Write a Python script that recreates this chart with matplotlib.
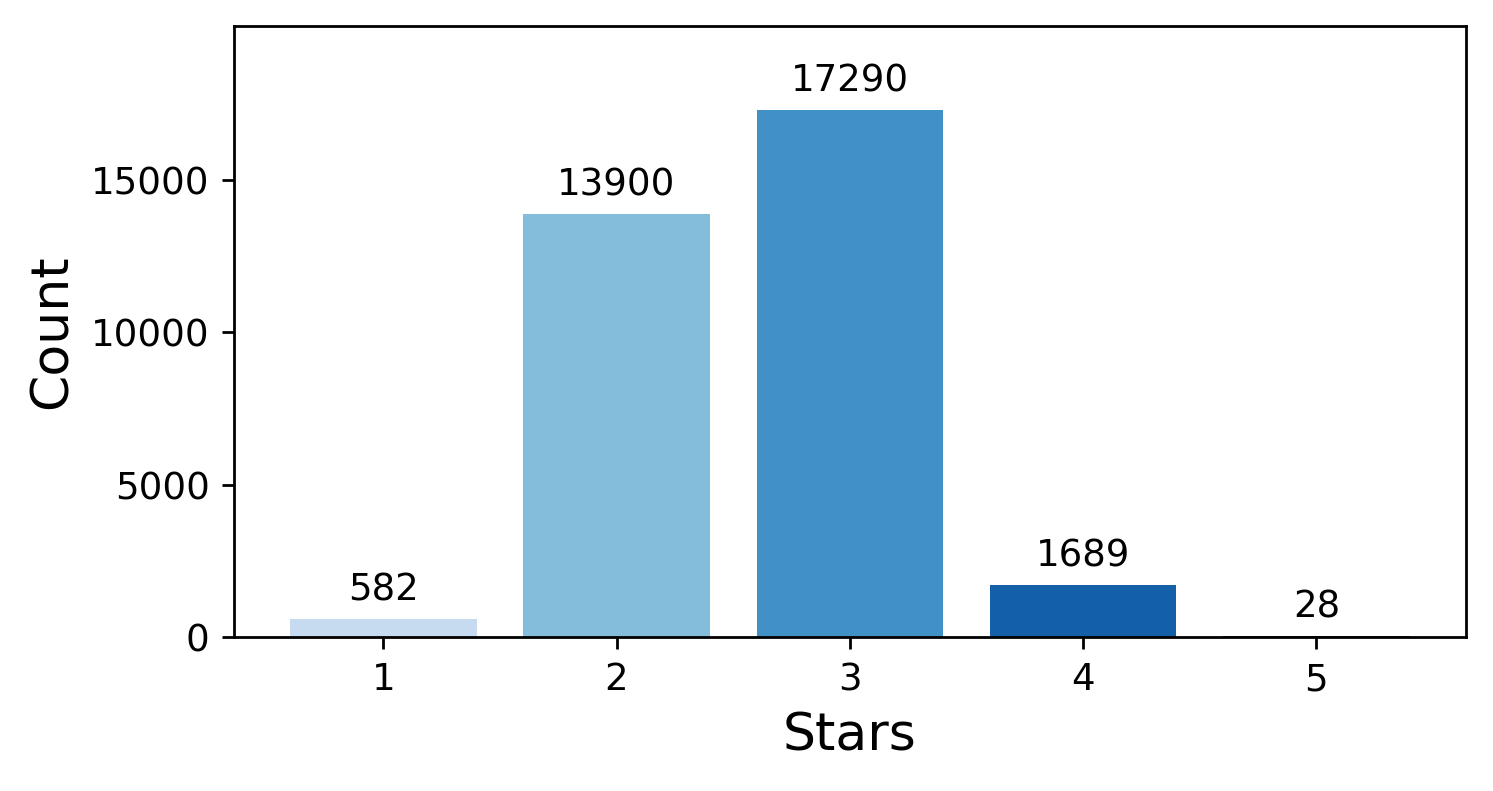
import matplotlib
matplotlib.use("Agg")
import matplotlib.pyplot as plt
import numpy as np

# star rating counts
stars = ["1", "2", "3", "4", "5"]
counts = [582, 13900, 17290, 1689, 28]

colors = plt.cm.Blues(np.linspace(0.25, 1.0, len(stars)))

fig = plt.figure(figsize=(1493 / 250, 791 / 250), dpi=250)
ax = fig.add_axes([0.1567, 0.195, 0.825, 0.772])

bars = ax.bar(stars, counts, color=colors, width=0.8)
ax.bar_label(bars, labels=[str(c) for c in counts], padding=3, fontsize=10.7)

ax.set_ylim(0, max(counts) * 1.16)
ax.set_yticks([0, 5000, 10000, 15000])
ax.tick_params(labelsize=10.7)
ax.set_xlabel("Stars", fontsize=15)
ax.set_ylabel("Count", fontsize=15)

fig.savefig("out.png", dpi=250)
